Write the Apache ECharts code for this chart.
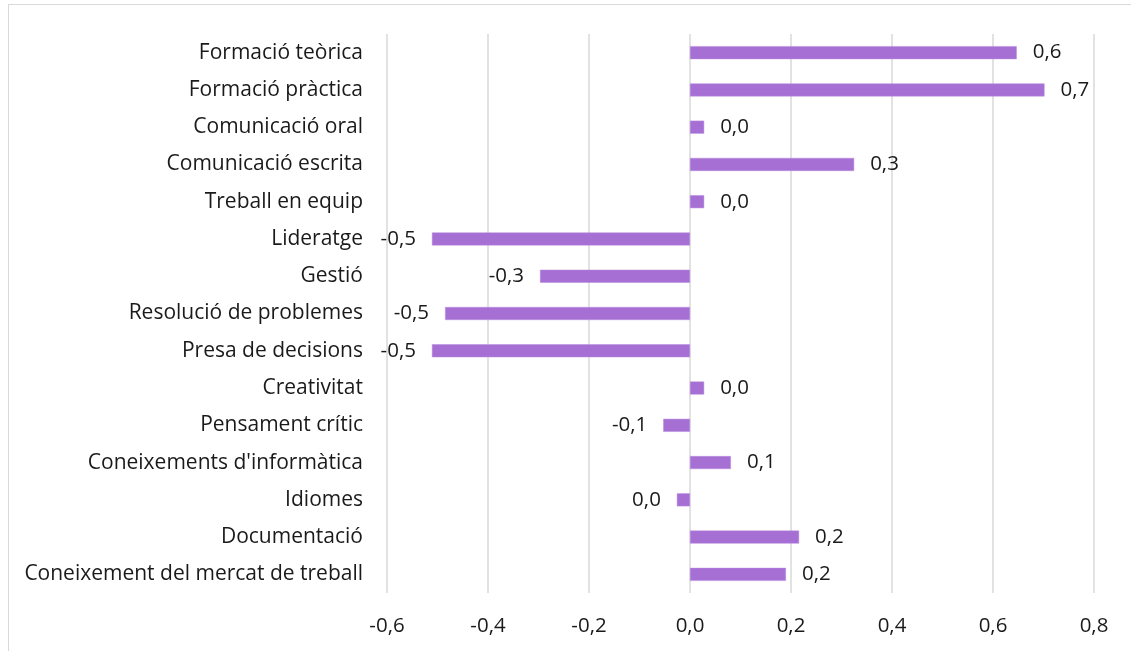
<!DOCTYPE html>
<html>
<head>
<meta charset="utf-8">
<script src="https://cdn.jsdelivr.net/npm/echarts@6/dist/echarts.min.js"></script>
<style>
html,body{margin:0;padding:0;background:#fff;}
#frame{position:absolute;left:8px;top:4px;width:1200px;height:700px;border-top:1.5px solid #d9d9d9;border-left:1.5px solid #d9d9d9;}
#chart{position:absolute;left:0;top:0;width:1131px;height:651px;}
</style>
</head>
<body>
<div id="frame"></div>
<div id="chart"></div>
<script>
const categories = [
  "Formació teòrica",
  "Formació pràctica",
  "Comunicació oral",
  "Comunicació escrita",
  "Treball en equip",
  "Lideratge",
  "Gestió",
  "Resolució de problemes",
  "Presa de decisions",
  "Creativitat",
  "Pensament crític",
  "Coneixements d'informàtica",
  "Idiomes",
  "Documentació",
  "Coneixement del mercat de treball"
];
const values = [0.647, 0.702, 0.028, 0.325, 0.028, -0.511, -0.297, -0.485, -0.511, 0.028, -0.053, 0.081, -0.026, 0.216, 0.19];
const xTicks = [-0.6, -0.4, -0.2, 0.0, 0.2, 0.4, 0.6, 0.8];

function fmt(v){
  let s = Math.abs(v).toFixed(1);
  if (parseFloat(s) !== 0 && v < 0) s = "-" + s;
  return s.replace(".", ",");
}

const FONT = "'Open Sans', sans-serif";
const FS = 20.5;
const chart = echarts.init(document.getElementById('chart'), null, {renderer:'canvas'});
chart.setOption({
  animation:false,
  grid:{left:387, right:37, top:34, bottom:58, containLabel:false},
  xAxis:{
    type:'value', min:xTicks[0], max:xTicks[xTicks.length-1], interval:0.2,
    axisLine:{show:false}, axisTick:{show:false},
    splitLine:{show:true, lineStyle:{color:'#d9d9d9', width:1.5}},
    axisLabel:{formatter:v=>fmt(v), color:'#1a1a1a', fontSize:FS, fontFamily:FONT, margin:23}
  },
  yAxis:{
    type:'category', data:categories, inverse:true,
    axisLine:{show:false}, axisTick:{show:false},
    axisLabel:{color:'#1a1a1a', fontSize:21, fontFamily:FONT, margin:24}
  },
  series:[{
    type:'bar',
    data:values.map(v=>({value:v, label:{position: v<0?'left':'right'}})),
    barWidth:13,
    itemStyle:{color:'#a66fd3', borderColor:'#b98ce0', borderWidth:0.5},
    label:{show:true, distance:16, formatter:p=>fmt(p.value), color:'#1a1a1a', fontSize:FS, fontFamily:FONT}
  }]
});
</script>
</body>
</html>
